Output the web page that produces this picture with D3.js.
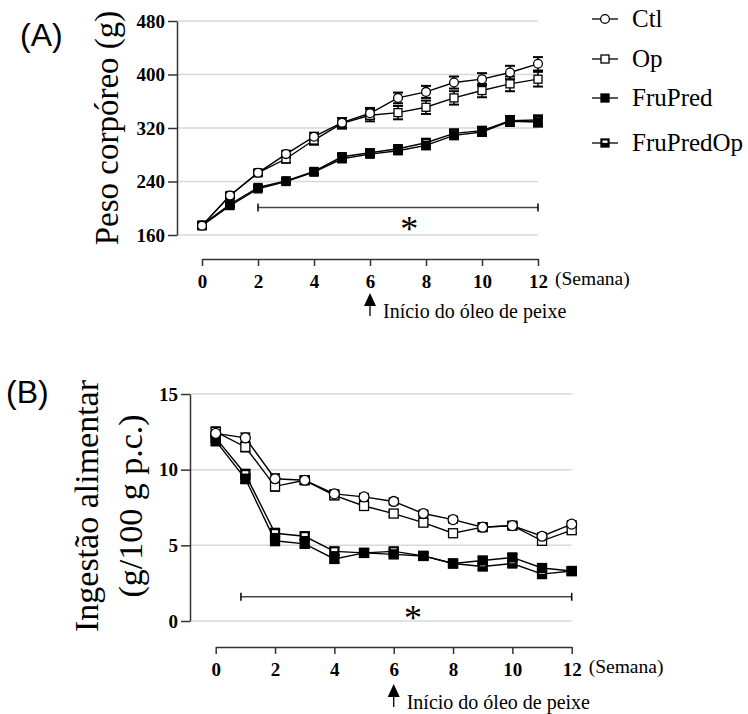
<!DOCTYPE html>
<html>
<head>
<meta charset="utf-8">
<script src="https://cdn.jsdelivr.net/npm/d3@7"></script>
<style>
  body { margin: 0; background: #fff; }
  svg text { font-family: "Liberation Serif", "Times New Roman", serif; fill: #000; }
  .panel { font-family: "Liberation Sans", Arial, sans-serif !important; font-size: 32px; }
</style>
</head>
<body>
<svg width="748" height="714"></svg>
<script>
// semanas
var weeks = [0, 1, 2, 3, 4, 5, 6, 7, 8, 9, 10, 11, 12];
var xTicks = [0, 2, 4, 6, 8, 10, 12];

// (A) peso corporeo (g)
var ctlA        = [174, 219, 253, 281, 307, 328, 342, 365, 374, 388, 393, 403, 416];
var ctlAErr     = [3, 4, 4, 5, 6, 7, 8, 8, 9, 9, 9, 10, 10];
var opA         = [174, 219, 253, 274, 302, 327, 339, 343, 351, 365, 376, 386, 393];
var opAErr      = [3, 4, 4, 6, 7, 8, 9, 10, 10, 10, 10, 11, 11];
var fruPredA    = [174, 204, 229, 240, 254, 274, 281, 286, 294, 309, 314, 330, 329];
var fruPredOpA  = [175, 206, 231, 241, 255, 277, 283, 289, 298, 312, 316, 331, 332];
var fruAErr     = [2, 3, 3, 3, 4, 5, 5, 5, 6, 6, 6, 7, 7];
var yTicksA = [160, 240, 320, 400, 480];

// (B) ingestao alimentar (g/100 g p.c.)
var ctlB        = [12.4, 12.1, 9.4, 9.3, 8.4, 8.2, 7.9, 7.1, 6.7, 6.2, 6.3, 5.6, 6.4];
var opB         = [12.5, 11.5, 8.9, 9.3, 8.3, 7.6, 7.1, 6.5, 5.8, 6.2, 6.3, 5.3, 6.0];
var fruPredB    = [11.9, 9.4, 5.3, 5.1, 4.1, 4.5, 4.4, 4.3, 3.8, 4.0, 4.2, 3.5, 3.3];
var fruPredOpB  = [12.1, 9.7, 5.8, 5.6, 4.6, 4.5, 4.6, 4.3, 3.8, 3.6, 3.8, 3.1, 3.3];
var errB        = [0.3, 0.3, 0.3, 0.25, 0.25, 0.2, 0.2, 0.2, 0.2, 0.2, 0.2, 0.2, 0.2];
var yTicksB = [0, 5, 10, 15];

var seriesNames = ["Ctl", "Op", "FruPred", "FruPredOp"];
var markers = ["circle", "square", "filled", "half"];

var serif = '"Liberation Serif", "Times New Roman", serif';
var svg = d3.select("svg");

/********** helpers **********/
function drawMarker(g, type, cx, cy, s) {
    if (type == "circle") {
        g.append("circle").attr("cx", cx).attr("cy", cy).attr("r", s * 0.55)
            .attr("fill", "#fff").attr("stroke", "#000").attr("stroke-width", 1.3);
    } else if (type == "square") {
        g.append("rect").attr("x", cx - s / 2).attr("y", cy - s / 2).attr("width", s).attr("height", s)
            .attr("fill", "#fff").attr("stroke", "#000").attr("stroke-width", 1.3);
    } else if (type == "filled") {
        g.append("rect").attr("x", cx - s / 2).attr("y", cy - s / 2).attr("width", s).attr("height", s)
            .attr("fill", "#000").attr("stroke", "#000").attr("stroke-width", 1.3);
    } else {
        g.append("rect").attr("x", cx - s / 2).attr("y", cy - s / 2).attr("width", s).attr("height", s)
            .attr("fill", "#000").attr("stroke", "#000").attr("stroke-width", 1.3);
        g.append("rect").attr("x", cx - s / 2 + 1.5).attr("y", cy - s / 2 + 1.5).attr("width", s - 3).attr("height", s * 0.3)
            .attr("fill", "#fff");
    }
}

function panel(opt) {
    var x = d3.scaleLinear().domain([0, 12]).range(opt.xr);
    var y = d3.scaleLinear().domain(opt.yd).range(opt.yr);
    var g = svg.append("g");

    // gridlines
    g.selectAll(".grid").data(opt.yTicks).enter().append("line")
        .attr("x1", opt.yAxisX).attr("x2", x(12))
        .attr("y1", y).attr("y2", y)
        .attr("stroke", "#d8d8d8").attr("stroke-width", 1.5);

    // y axis
    var ya = g.append("g").attr("transform", "translate(" + opt.yAxisX + ",0)")
        .call(d3.axisLeft(y).tickValues(opt.yTicks).tickSize(9).tickSizeOuter(0).tickPadding(3));
    ya.select(".domain").attr("stroke", "#333").attr("stroke-width", 1.5);
    ya.selectAll(".tick line").attr("stroke", "#333").attr("stroke-width", 1.5);

    // x axis
    var xa = g.append("g").attr("transform", "translate(0," + opt.xAxisY + ")")
        .call(d3.axisBottom(x).tickValues(xTicks).tickSize(7).tickSizeOuter(0).tickPadding(6));
    xa.select(".domain").attr("stroke", "#333").attr("stroke-width", 1.5);
    xa.selectAll(".tick line").attr("stroke", "#333").attr("stroke-width", 1.5);
    xa.selectAll(".tick text").attr("dy", "0.85em");

    [ya, xa].forEach(function(a) {
        a.attr("font-family", null).attr("font-size", null);
        a.selectAll(".tick text")
            .style("font-family", serif).style("font-weight", "bold").style("font-size", "19px");
    });

    g.append("text").attr("x", x(12) + 17).attr("y", opt.xAxisY + 26)
        .style("font-size", "19.5px").text("(Semana)");

    // arrow: inicio do oleo de peixe
    var ax = x(6);
    g.append("line").attr("x1", ax).attr("x2", ax)
        .attr("y1", opt.arrowY + 10).attr("y2", opt.arrowY + 23)
        .attr("stroke", "#000").attr("stroke-width", 1.3);
    g.append("path")
        .attr("d", "M" + ax + "," + opt.arrowY + "L" + (ax - 6) + "," + (opt.arrowY + 13) + "L" + (ax + 6) + "," + (opt.arrowY + 13) + "Z")
        .attr("fill", "#000");
    g.append("text").attr("x", ax + 13).attr("y", opt.arrowY + 25)
        .style("font-size", "20px").text("Início do óleo de peixe");

    // significance bracket
    var by = y(opt.bracket[2]);
    g.append("line").attr("x1", x(opt.bracket[0])).attr("x2", x(opt.bracket[1]))
        .attr("y1", by).attr("y2", by).attr("stroke", "#444").attr("stroke-width", 1.5);
    [opt.bracket[0], opt.bracket[1]].forEach(function(w) {
        g.append("line").attr("x1", x(w)).attr("x2", x(w))
            .attr("y1", by - 4).attr("y2", by + 4).attr("stroke", "#000").attr("stroke-width", 1.5);
    });
    g.append("text").attr("x", x(opt.star)).attr("y", by + 33)
        .attr("text-anchor", "middle").style("font-size", "36px").style("font-weight", "300").text("*");

    // lines, error bars, markers (draw filled series first)
    var order = [3, 2, 1, 0];
    var line = d3.line().x(function(d, i) { return x(weeks[i]); }).y(function(d) { return y(d); });
    order.forEach(function(k) {
        var vals = opt.series[k], err = opt.errs[k];
        g.append("path").datum(vals).attr("d", line)
            .attr("fill", "none").attr("stroke", "#000").attr("stroke-width", 1.4);
        vals.forEach(function(v, i) {
            var cx = x(weeks[i]);
            g.append("line").attr("x1", cx).attr("x2", cx)
                .attr("y1", y(v - err[i])).attr("y2", y(v + err[i]))
                .attr("stroke", "#000").attr("stroke-width", 1.5);
            [v - err[i], v + err[i]].forEach(function(e) {
                g.append("line").attr("x1", cx - 5).attr("x2", cx + 5)
                    .attr("y1", y(e)).attr("y2", y(e))
                    .attr("stroke", "#000").attr("stroke-width", 2);
            });
        });
    });
    order.forEach(function(k) {
        opt.series[k].forEach(function(v, i) {
            drawMarker(g, markers[k], x(weeks[i]), y(v), opt.ms);
        });
    });

    // y title
    opt.title.forEach(function(t, i) {
        g.append("text")
            .attr("transform", "translate(" + opt.titleX[i] + "," + opt.titleY + ") rotate(-90)")
            .attr("text-anchor", "middle").style("font-size", opt.titleSize + "px").text(t);
    });

    g.append("text").attr("class", "panel").attr("x", opt.label[0]).attr("y", opt.label[1]).text(opt.label[2]);
}

panel({
    xr: [202, 538], yd: [160, 480], yr: [235, 21], yTicks: yTicksA,
    yAxisX: 177, xAxisY: 259, arrowY: 293,
    bracket: [2, 12, 201], star: 7.4,
    series: [ctlA, opA, fruPredA, fruPredOpA],
    errs: [ctlAErr, opAErr, fruAErr, fruAErr],
    ms: 8,
    title: ["Peso corpóreo (g)"], titleX: [118], titleY: 128, titleSize: 33,
    label: [20, 46, "(A)"]
});

panel({
    xr: [215.7, 571.7], yd: [0, 15], yr: [621, 394], yTicks: yTicksB,
    yAxisX: 190, xAxisY: 647, arrowY: 684,
    bracket: [0.85, 12, 1.6], star: 6.65,
    series: [ctlB, opB, fruPredB, fruPredOpB],
    errs: [errB, errB, errB, errB],
    ms: 9,
    title: ["Ingestão alimentar", "(g/100 g p.c.)"], titleX: [98, 142], titleY: 506, titleSize: 34,
    label: [6, 403, "(B)"]
});

/********** legend **********/
var legY = [19, 59, 98, 143];
var leg = svg.append("g");
seriesNames.forEach(function(name, i) {
    leg.append("line").attr("x1", 592).attr("x2", 618)
        .attr("y1", legY[i]).attr("y2", legY[i]).attr("stroke", "#000").attr("stroke-width", 1.3);
    drawMarker(leg, markers[i], 605, legY[i], 8);
    leg.append("text").attr("x", 632).attr("y", legY[i] + 8)
        .style("font-size", "25px").text(name);
});
</script>
</body>
</html>
